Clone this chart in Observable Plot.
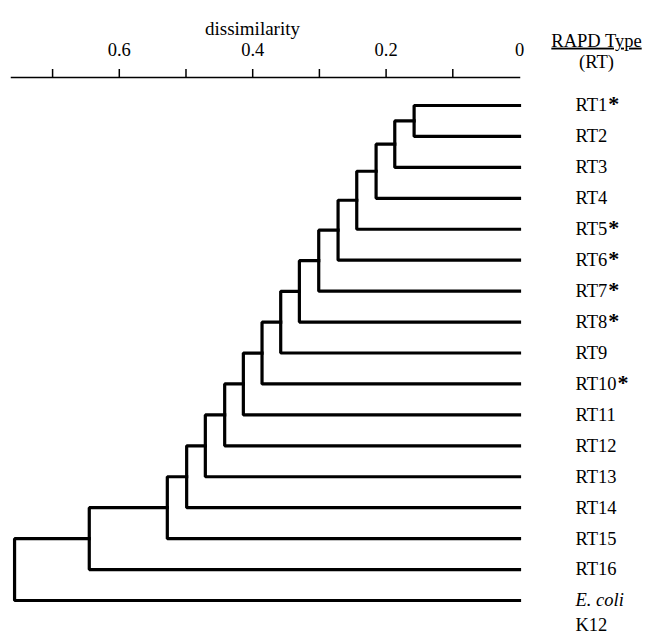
<!DOCTYPE html>
<html>
<head>
<meta charset="utf-8">
<script src="https://cdn.jsdelivr.net/npm/d3@7"></script>
<script src="https://cdn.jsdelivr.net/npm/@observablehq/plot@0.6"></script>
<style>
  html, body { margin: 0; padding: 0; background: #fff; }
  svg, svg text { font-family: "Liberation Serif", "Times New Roman", serif !important; }
</style>
</head>
<body>
<div id="chart"></div>
<script>
// Leaves of the dendrogram, top to bottom
const leaves = ["RT1*", "RT2", "RT3", "RT4", "RT5*", "RT6*", "RT7*", "RT8*", "RT9",
                "RT10*", "RT11", "RT12", "RT13", "RT14", "RT15", "RT16", "E. coli"];
// Dissimilarity at which each successive leaf joins the growing cluster
const mergeHeights = [0.158, 0.187, 0.215, 0.244, 0.272, 0.301, 0.330, 0.358,
                      0.386, 0.414, 0.442, 0.471, 0.499, 0.528, 0.645, 0.757];
const tickValues = [0.1, 0.2, 0.3, 0.4, 0.5, 0.6, 0.7];
const tickLabels = [0, 0.2, 0.4, 0.6];
const axisTitle = "dissimilarity";
const headTitle = "RAPD Type";
const headSub = "(RT)";
const outgroupSub = "K12";

// Build the elbow paths of the dendrogram
const paths = [];
let px = 0, py = 0;
mergeHeights.forEach((h, i) => {
  const ly = i + 1;
  paths.push({z: i, x: px, y: py}, {z: i, x: h, y: py}, {z: i, x: h, y: ly}, {z: i, x: 0, y: ly});
  px = h;
  py = (py + ly) / 2;
});

const leafRows = leaves.map((name, i) => ({name, i}));
const font = "Liberation Serif";

const chart = Plot.plot({
  width: 645,
  height: 634,
  marginLeft: 11,
  marginRight: 126,
  marginTop: 77,
  marginBottom: 30,
  style: {fontFamily: font, background: "white", color: "black", fontSize: "18px"},
  x: {domain: [0.7616, 0], axis: null},
  y: {domain: [0, leaves.length - 1], range: [105, 600], axis: null},
  marks: [
    Plot.frame({anchor: "top", stroke: "black", strokeWidth: 1.5}),
    Plot.axisX({anchor: "top", ticks: tickValues, tickSize: 9, tickFormat: () => "", strokeWidth: 1.5, label: null}),
    Plot.axisX({anchor: "top", ticks: tickLabels, tickSize: 0, tickPadding: 22,
      tickFormat: d => d === 0 ? "0" : d.toFixed(1), fontSize: 18.5, fontFamily: font, label: null}),
    Plot.text([axisTitle], {frameAnchor: "top", dx: -13, dy: -56, text: d => d, fontSize: 19, fontFamily: font}),
    Plot.text([headTitle], {frameAnchor: "top-right", dx: 77, dy: -44, text: d => d, fontSize: 18.5, fontFamily: font, textAnchor: "middle", className: "head"}),
    Plot.text([headSub], {frameAnchor: "top-right", dx: 77, dy: -23, text: d => d, fontSize: 18.5, fontFamily: font, textAnchor: "middle"}),
    Plot.line(paths, {x: "x", y: "y", z: "z", stroke: "black", strokeWidth: 3.2, strokeLinejoin: "miter", strokeLinecap: "square", curve: "linear"}),
    Plot.text(leafRows.filter(d => d.name !== "E. coli"), {x: 0, y: "i", text: "name", dx: 56, textAnchor: "start", fontSize: 18.5, fontFamily: font, className: "leaf"}),
    Plot.text(leafRows.filter(d => d.name === "E. coli"), {x: 0, y: "i", text: "name", dx: 56, textAnchor: "start", fontSize: 18.5, fontFamily: font, fontStyle: "italic"}),
    Plot.text(leafRows.filter(d => d.name === "E. coli"), {x: 0, y: "i", text: () => outgroupSub, dx: 56, dy: 25, textAnchor: "start", fontSize: 18.5, fontFamily: font})
  ]
});

// Bold asterisks and underlined header
const svgns = "http://www.w3.org/2000/svg";
chart.querySelectorAll("g.leaf text").forEach(t => {
  const s = t.textContent;
  if (s.endsWith("*")) {
    t.textContent = s.slice(0, -1);
    const ts = document.createElementNS(svgns, "tspan");
    ts.setAttribute("font-weight", "bold");
    ts.setAttribute("font-size", "22");
    ts.setAttribute("dx", "1");
    ts.textContent = "*";
    t.appendChild(ts);
  }
});
chart.querySelectorAll("g.head text").forEach(t => t.setAttribute("text-decoration", "underline"));

document.getElementById("chart").appendChild(chart);
</script>
</body>
</html>
